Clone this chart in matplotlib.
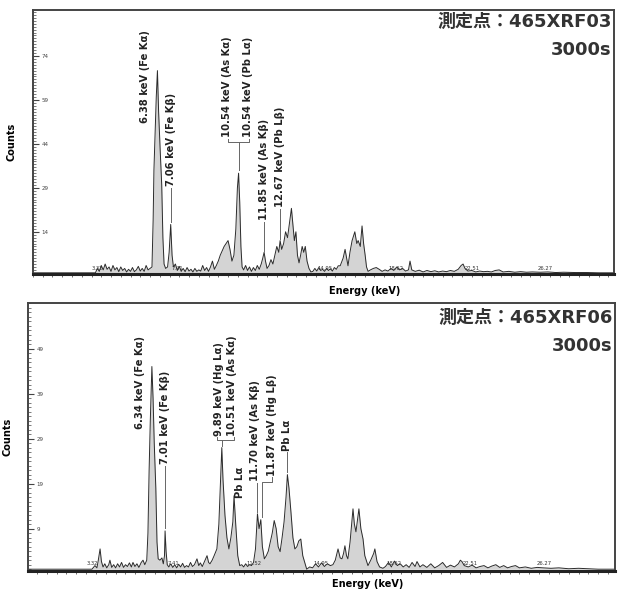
import matplotlib.pyplot as plt
from matplotlib.ticker import MultipleLocator

plt.rcParams['font.family'] = ['DejaVu Sans', 'Noto Sans CJK JP']

# 465XRF03 spectrum (keV, counts)
energy_03 = [0.0, 3.2, 3.3, 3.4, 3.5, 3.6, 3.7, 3.8, 3.9, 4.0, 4.1, 4.2, 4.3, 4.4, 4.5, 4.6,
             4.7, 4.8, 4.9, 5.0, 5.1, 5.2, 5.3, 5.4, 5.5, 5.6, 5.7, 5.8, 5.9, 6.0, 6.1, 6.16,
             6.2, 6.25, 6.32, 6.38, 6.44, 6.52, 6.6, 6.66, 6.72, 6.8, 6.9, 6.98, 7.06, 7.13,
             7.2, 7.3, 7.4, 7.5, 7.6, 7.7, 7.8, 7.9, 8.0, 8.1, 8.2, 8.3, 8.4, 8.5, 8.6, 8.7,
             8.8, 8.9, 9.0, 9.1, 9.2, 9.3, 9.4, 9.5, 9.6, 9.7, 9.8, 9.9, 10.0, 10.1, 10.2,
             10.3, 10.4, 10.48, 10.54, 10.6, 10.66, 10.72, 10.8, 10.9, 11.0, 11.1, 11.2, 11.3,
             11.4, 11.5, 11.6, 11.7, 11.78, 11.85, 11.92, 12.0, 12.1, 12.2, 12.3, 12.4, 12.5,
             12.6, 12.67, 12.75, 12.85, 12.95, 13.05, 13.15, 13.25, 13.32, 13.4, 13.48, 13.56,
             13.64, 13.72, 13.8, 13.88, 13.96, 14.05, 14.15, 14.25, 14.35, 14.45, 14.55, 14.65,
             14.75, 14.85, 14.95, 15.05, 15.15, 15.25, 15.35, 15.45, 15.55, 15.65, 15.75, 15.9,
             16.0, 16.15, 16.25, 16.36, 16.5, 16.6, 16.67, 16.78, 16.87, 16.95, 17.03, 17.1,
             17.18, 17.3, 17.45, 17.6, 17.75, 17.9, 18.05, 18.2, 18.35, 18.5, 18.65, 18.8,
             18.95, 19.1, 19.25, 19.33, 19.42, 19.6, 19.8, 20.0, 20.2, 20.4, 20.6, 20.8, 21.0,
             21.2, 21.4, 21.6, 21.8, 21.95, 22.05, 22.15, 22.3, 22.5, 22.7, 22.9, 23.1, 23.3,
             23.5, 23.7, 23.9, 24.1, 24.4, 24.7, 25.0, 25.3, 25.6, 26.0, 26.4, 26.8, 27.2,
             27.8, 28.4, 29.0, 29.8]
counts_03 = [0, 0, 1.5, 0.5, 2.5, 1, 3, 1.2, 2, 0.5, 2.5, 1, 1.8, 0.4, 2, 0.8,
             1.5, 0.3, 1.2, 0.5, 1.8, 0.4, 1, 2.2, 0.6, 1.5, 0.5, 2.5, 1, 1.5, 2, 18,
             35, 45, 60, 69, 55, 42, 30, 12, 3, 1.5, 2, 7, 16.5, 6,
             2, 3, 0.8, 2.2, 0.5, 1.5, 0.4, 1.8, 0.6, 1.2, 0.3, 1.5, 0.5, 1, 0.6, 2.5,
             0.8, 1.8, 0.5, 2, 4, 1.2, 2.5, 4, 6, 7.5, 9, 10, 11, 8, 4,
             6, 15, 29, 34, 24, 9, 2, 1, 2.5, 0.8, 2, 0.5, 1.8,
             0.8, 2.5, 1.2, 3, 5, 7, 4, 1.5, 2.5, 4.5, 3, 6, 9,
             7, 11, 8, 10, 14, 12, 17, 22, 17, 11, 14, 6,
             3.4, 6, 9, 7, 9, 4, 1.5, 0.3, 0.5, 1.5, 0.6, 1.8,
             0.8, 1.2, 0.5, 1.5, 0.8, 1.4, 0.6, 1.8, 1.2, 2.4, 2.4, 5,
             8, 2.4, 7, 11, 14, 10, 11, 9, 16, 10, 6, 2,
             0.5, 1, 1.5, 1.8, 1.2, 0.5, 1, 0.6, 1.5, 0.8, 2, 1,
             1.5, 0.6, 1, 4, 1, 0.5, 0.9, 0.3, 0.8, 0.4, 0.7, 0.3, 0.6,
             0.4, 0.8, 0.5, 1.2, 2.5, 3, 1.5, 0.6, 0.8, 0.3, 0.6, 0.4, 0.5,
             0.3, 0.8, 1, 0.3, 0.5, 0.2, 0.4, 0.2, 0.3, 0.2, 0.3, 0.1, 0.2,
             0.1, 0.1, 0, 0]

# 465XRF06 spectrum (keV, counts)
energy_06 = [0.0, 3.3, 3.45, 3.55, 3.62, 3.71, 3.78, 3.86, 3.95, 4.05, 4.15, 4.21, 4.3, 4.4,
             4.5, 4.6, 4.7, 4.8, 4.9, 5.0, 5.1, 5.2, 5.3, 5.38, 5.48, 5.58, 5.68, 5.8, 5.89,
             5.98, 6.08, 6.14, 6.2, 6.26, 6.34, 6.4, 6.46, 6.54, 6.6, 6.66, 6.75, 6.85, 6.92,
             6.98, 7.01, 7.06, 7.12, 7.2, 7.3, 7.4, 7.5, 7.6, 7.7, 7.8, 7.9, 8.0, 8.1, 8.2,
             8.3, 8.4, 8.5, 8.63, 8.72, 8.8, 8.9, 9.0, 9.14, 9.22, 9.29, 9.4, 9.5, 9.64, 9.74,
             9.82, 9.89, 9.95, 10.05, 10.15, 10.25, 10.35, 10.45, 10.51, 10.6, 10.7, 10.8,
             10.9, 11.0, 11.1, 11.2, 11.3, 11.4, 11.5, 11.6, 11.7, 11.78, 11.87, 11.95, 12.05,
             12.15, 12.25, 12.35, 12.45, 12.55, 12.65, 12.75, 12.85, 12.95, 13.05, 13.15,
             13.22, 13.3, 13.4, 13.5, 13.6, 13.7, 13.8, 13.9, 14.0, 14.1, 14.2, 14.35, 14.5,
             14.65, 14.8, 14.95, 15.1, 15.25, 15.4, 15.53, 15.65, 15.79, 15.9, 15.99, 16.07,
             16.14, 16.22, 16.29, 16.4, 16.5, 16.55, 16.62, 16.7, 16.78, 16.85, 16.95, 17.06,
             17.15, 17.31, 17.45, 17.6, 17.66, 17.77, 17.9, 18.07, 18.2, 18.35, 18.5, 18.65,
             18.8, 18.95, 19.1, 19.25, 19.4, 19.55, 19.7, 19.8, 19.95, 20.1, 20.3, 20.5, 20.7,
             20.9, 21.1, 21.3, 21.5, 21.7, 21.9, 22.0, 22.08, 22.2, 22.4, 22.6, 22.8, 23.0,
             23.2, 23.4, 23.6, 23.8, 24.0, 24.2, 24.4, 24.6, 24.8, 25.0, 25.3, 25.6, 25.9,
             26.2, 26.6, 27.0, 27.5, 28.0, 28.5, 29.0, 29.85]
counts_06 = [0, 0, 0.8, 0.3, 2, 4.5, 1.7, 0.5, 1.2, 0.3, 1, 2, 0.4, 1,
             0.3, 1.2, 0.5, 1.5, 0.4, 1, 0.6, 1.4, 0.5, 1.5, 0.6, 1.2, 0.4, 1.5, 2,
             1, 2, 8, 22, 33, 45, 38, 28, 18, 6, 2.3, 2, 2.5, 1.2,
             3, 8.5, 4, 1, 0.5, 1.2, 0.4, 1, 0.3, 1.1, 0.5, 1.3, 0.4, 0.8, 0.5,
             1.5, 0.6, 1, 2.3, 0.8, 1.4, 0.6, 1.6, 3, 1.5, 1.2, 2, 3, 4.5, 10,
             19, 27, 20, 12, 7, 4.5, 7, 10.5, 16.3, 9.7, 3, 0.8,
             1, 0.5, 1.2, 0.6, 1, 0.8, 1.5, 4.5, 12.3, 9, 11, 5, 2.3,
             3, 4, 6, 8, 10.8, 9, 5, 3.9, 7, 10.5, 16,
             21, 18, 12.7, 7, 4.5, 5, 6.3, 6.7, 3, 1.5, 0, 0.5, 0.3,
             1.2, 0.5, 1.4, 0.6, 1.2, 0.8, 1, 2, 4.5, 2.5, 2.3, 3.5,
             5.2, 3, 2.3, 6, 11, 13.4, 10, 8.3, 11, 13.4, 9, 6.7,
             3, 0.8, 2, 3.5, 4.5, 1.7, 0.5, 0.2, 0.6, 1.5, 0.5, 1.8,
             0.8, 1.2, 0.5, 1, 0.4, 1.5, 0.6, 1.7, 0.5, 1, 0.4, 1.2, 0.3,
             0.8, 1.5, 0.4, 0.9, 0.5, 1.2, 2, 1.7, 0.8, 0.5, 0.9, 0.3, 0.6,
             0.8, 0.3, 0.7, 1, 0.4, 0.8, 0.3, 0.6, 0.8, 0.3, 0.5, 0.2, 0.4,
             0.3, 0.2, 0.3, 0.1, 0.2, 0.1, 0, 0]

yticks_03 = [14, 29, 44, 59, 74]
yticks_06 = [9, 19, 29, 39, 49]

# small energy markers printed along the baseline
markers_03 = [3.32, 7.41, 14.95, 18.62, 22.51, 26.27]
markers_06 = [3.32, 7.41, 11.52, 14.95, 18.62, 22.51, 26.27]

LABEL_FONT = dict(fontsize=7.2, fontweight='bold', rotation=90, ha='center', va='bottom',
                  color='#222222')
LEADER = dict(color='#666666', lw=0.7)


def draw_spectrum(ax, energy, counts, yticks, markers, xlim, ylim, point, title_y):
    ax.fill_between(energy, counts, 0, color='#d4d4d4', lw=0)
    ax.plot(energy, counts, color='#2b2b2b', lw=0.7)
    ax.set_xlim(*xlim)
    ax.set_ylim(*ylim)

    ax.set_yticks(yticks)
    ax.yaxis.set_minor_locator(MultipleLocator(1))
    ax.tick_params(axis='y', which='major', direction='in', length=4, pad=-6,
                   labelsize=4, colors='#444444')
    ax.tick_params(axis='y', which='minor', direction='in', length=2, color='#666666')
    for lab in ax.get_yticklabels():
        lab.set_horizontalalignment('left')

    ax.set_xticks([])
    ax.xaxis.set_minor_locator(MultipleLocator(0.5))
    ax.tick_params(axis='x', which='minor', direction='out', length=2, color='#555555')

    for s in ax.spines.values():
        s.set_color('#444444')
        s.set_linewidth(1.4)
    ax.spines['bottom'].set_linewidth(2.2)
    ax.spines['bottom'].set_color('#222222')

    for m in markers:
        ax.text(m, 0.6, f'{m:.2f}', fontsize=3.8, ha='center', va='bottom', color='#333333')

    ax.text(0.996, title_y[0], f'測定点：{point}', transform=ax.transAxes, ha='right',
            va='center', fontsize=13, fontweight='bold', color='#333333')
    ax.text(0.996, title_y[1], '3000s', transform=ax.transAxes, ha='right', va='center',
            fontsize=13, fontweight='bold', color='#333333')

    ax.set_ylabel('Counts', fontsize=7, fontweight='bold')
    ax.set_xlabel('Energy (keV)', fontsize=7, fontweight='bold')


fig = plt.figure(figsize=(6.19, 5.90), dpi=100)

# upper panel
ax1 = fig.add_axes([0.0533, 0.5356, 0.939, 0.4475])
draw_spectrum(ax1, energy_03, counts_03, yticks_03, markers_03, (0, 29.8), (-0.4, 89.7),
              '465XRF03', (0.955, 0.848))
ax1.yaxis.set_label_coords(-0.029, 0.5)
ax1.xaxis.set_label_coords(0.571, -0.045)

ax1.text(5.74, 51, '6.38 keV (Fe Kα)', **LABEL_FONT)
ax1.text(7.06, 29.7, '7.06 keV (Fe Kβ)', **LABEL_FONT)
ax1.plot([7.06, 7.06], [29, 17.5], **LEADER)
ax1.text(9.95, 46.5, '10.54 keV (As Kα)', **LABEL_FONT)
ax1.text(11.03, 46.5, '10.54 keV (Pb Lα)', **LABEL_FONT)
ax1.plot([10.0, 10.0, 11.05, 11.05], [45.8, 44.5, 44.5, 45.8], **LEADER)
ax1.plot([10.54, 10.54], [44.5, 35], **LEADER)
ax1.text(11.85, 18, '11.85 keV (As Kβ)', **LABEL_FONT)
ax1.plot([11.85, 11.85], [17.3, 7.5], **LEADER)
ax1.text(12.67, 22.5, '12.67 keV (Pb Lβ)', **LABEL_FONT)
ax1.plot([12.67, 12.67], [21.8, 11.5], **LEADER)

# lower panel
ax2 = fig.add_axes([0.0452, 0.0322, 0.9483, 0.4542])
draw_spectrum(ax2, energy_06, counts_06, yticks_06, markers_06, (0.05, 29.85), (-0.4, 59.1),
              '465XRF06', (0.944, 0.84))
ax2.yaxis.set_label_coords(-0.027, 0.5)
ax2.xaxis.set_label_coords(0.578, -0.03)

ax2.text(5.74, 31.2, '6.34 keV (Fe Kα)', **LABEL_FONT)
ax2.text(7.01, 23.4, '7.01 keV (Fe Kβ)', **LABEL_FONT)
ax2.plot([7.01, 7.01], [22.9, 9.2], **LEADER)
ax2.text(9.75, 29.6, '9.89 keV (Hg Lα)', **LABEL_FONT)
ax2.text(10.4, 29.6, '10.51 keV (As Kα)', **LABEL_FONT)
ax2.plot([9.65, 9.65, 10.5, 10.5], [29.4, 28.6, 28.6, 29.4], **LEADER)
ax2.plot([9.89, 9.89], [28.6, 27.3], **LEADER)
ax2.text(10.8, 15.8, 'Pb Lα', **LABEL_FONT)
ax2.text(11.6, 19.5, '11.70 keV (As Kβ)', **LABEL_FONT)
ax2.plot([11.7, 11.7], [19.2, 12.8], **LEADER)
ax2.text(12.44, 20.8, '11.87 keV (Hg Lβ)', **LABEL_FONT)
ax2.plot([12.44, 12.44, 11.92, 11.92], [20.5, 19.3, 19.3, 11.5], **LEADER)
ax2.text(13.22, 26.3, 'Pb Lα', **LABEL_FONT)
ax2.plot([13.22, 13.22], [26, 21.5], **LEADER)

fig.savefig('out.png', dpi=100)
